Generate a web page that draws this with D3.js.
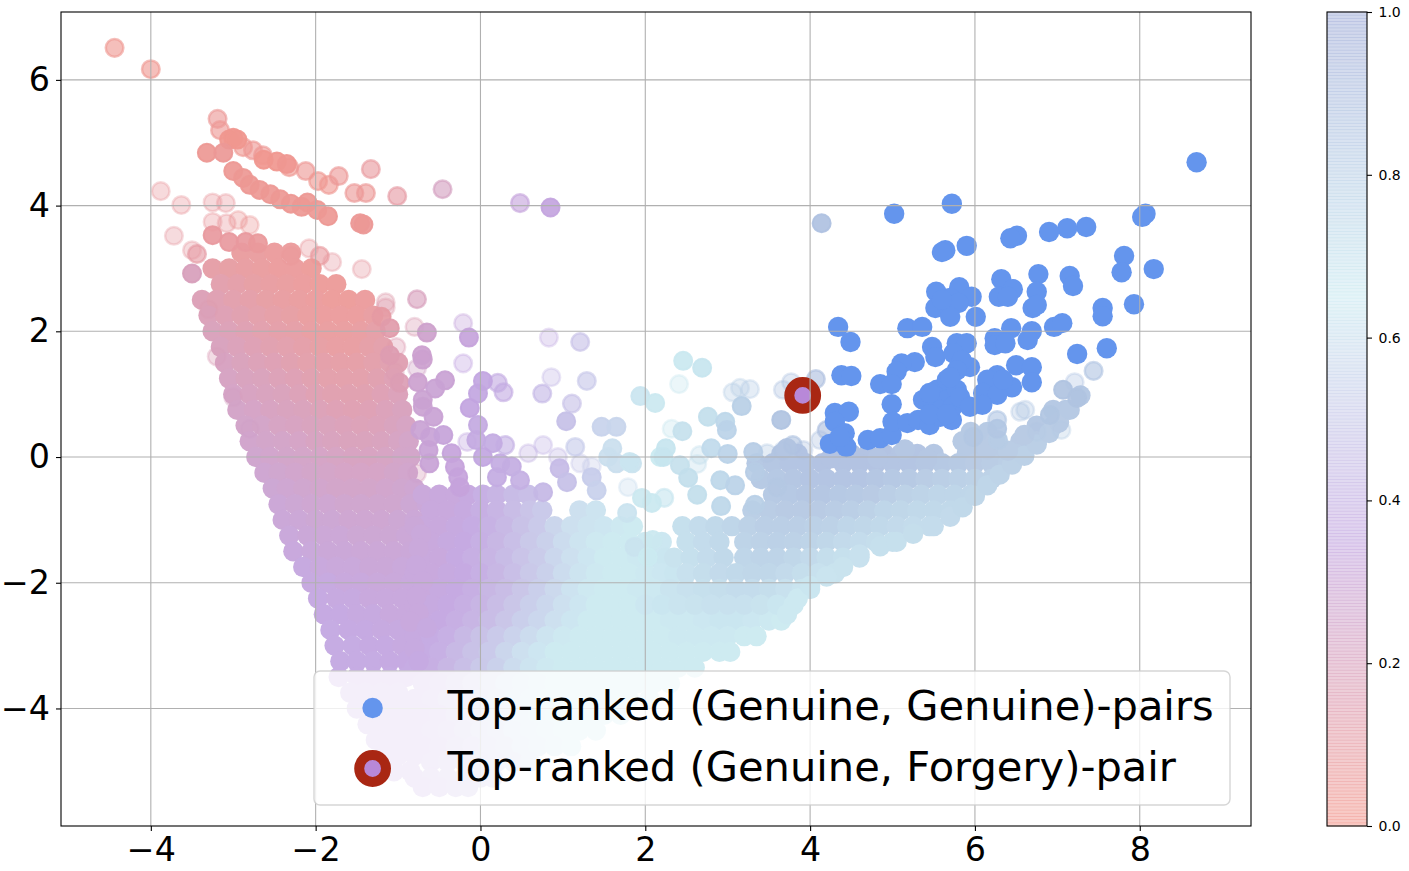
<!DOCTYPE html>
<html>
<head>
<meta charset="utf-8">
<script src="https://cdn.jsdelivr.net/npm/d3@7"></script>
<style>
body { margin: 0; background: #fff; }
svg { display: block; }
text { font-family: "DejaVu Sans", sans-serif; }
</style>
</head>
<body>
<div id="plotDiv"></div>
<script>
var xTicks = [-4, -2, 0, 2, 4, 6, 8];
var yTicks = [-4, -2, 0, 2, 4, 6];
var colorTicks = [0, 0.2, 0.4, 0.6, 0.8, 1];
var colorStops = [0, 0.35, 0.65, 1];
var colorValues = ["#f3968a", "#c2a4e0", "#cbeaf1", "#a0acd8"];
var legendLabels = ["Top-ranked (Genuine, Genuine)-pairs", "Top-ranked (Genuine, Forgery)-pair"];

// dense left lobe, rows are [y, x, score, x, score, ...]
var lobeRows = [
 [3.25,-2.9,.07,-2.7,.07,-2.5,.06,-2.3,.06],
 [3,-3.25,.1,-3.05,.09,-2.85,.08,-2.65,.07,-2.45,.06,-2.25,.06,-2.05,.05],
 [2.75,-3.15,.13,-2.95,.11,-2.75,.09,-2.55,.08,-2.35,.07,-2.15,.06,-1.95,.05,-1.75,.05],
 [2.5,-3.38,.17,-3.2,.15,-3,.13,-2.8,.11,-2.6,.09,-2.4,.08,-2.2,.07,-2,.06,-1.8,.05,-1.6,.05,-1.4,.06],
 [2.25,-3.3,.18,-3.1,.16,-2.9,.14,-2.7,.12,-2.5,.1,-2.3,.09,-2.1,.07,-1.9,.06,-1.7,.06,-1.5,.06,-1.3,.08],
 [2,-3.25,.19,-3.05,.17,-2.85,.15,-2.65,.13,-2.45,.11,-2.25,.1,-2.05,.08,-1.85,.07,-1.65,.07,-1.45,.08,-1.27,.1],
 [1.75,-3.15,.2,-2.95,.18,-2.75,.16,-2.55,.14,-2.35,.13,-2.15,.11,-1.95,.09,-1.75,.08,-1.55,.08,-1.35,.1,-1.18,.12],
 [1.5,-3.1,.21,-2.9,.19,-2.7,.17,-2.5,.16,-2.3,.14,-2.1,.12,-1.9,.11,-1.7,.1,-1.5,.1,-1.3,.12,-1.1,.14,-1,.15],
 [1.25,-3.05,.22,-2.85,.2,-2.65,.19,-2.45,.17,-2.25,.16,-2.05,.14,-1.85,.12,-1.65,.12,-1.45,.12,-1.25,.14,-1.05,.16],
 [1,-3,.23,-2.8,.21,-2.6,.2,-2.4,.19,-2.2,.17,-2,.15,-1.8,.14,-1.6,.14,-1.4,.14,-1.2,.16,-1,.18],
 [.75,-2.95,.24,-2.75,.23,-2.55,.21,-2.35,.2,-2.15,.19,-1.95,.17,-1.75,.16,-1.55,.15,-1.35,.16,-1.15,.18,-.95,.2],
 [.5,-2.85,.25,-2.65,.24,-2.45,.22,-2.25,.21,-2.05,.2,-1.85,.19,-1.65,.18,-1.45,.17,-1.25,.18,-1.05,.2,-.9,.22],
 [.25,-2.8,.26,-2.6,.25,-2.4,.24,-2.2,.23,-2,.21,-1.8,.2,-1.6,.19,-1.4,.19,-1.2,.2,-1,.22,-.87,.24],
 [0,-2.72,.27,-2.55,.26,-2.35,.25,-2.15,.24,-1.95,.23,-1.75,.22,-1.55,.21,-1.35,.21,-1.15,.22,-.95,.24,-.85,.25],
 [-.25,-2.62,.28,-2.45,.27,-2.25,.26,-2.05,.25,-1.85,.24,-1.65,.23,-1.45,.23,-1.25,.23,-1.05,.25,-.88,.26],
 [-.5,-2.52,.29,-2.35,.28,-2.15,.27,-1.95,.26,-1.75,.25,-1.55,.25,-1.35,.25,-1.15,.26,-.95,.27,-.8,.28],
 [-.75,-2.45,.3,-2.25,.29,-2.05,.28,-1.85,.28,-1.65,.27,-1.45,.27,-1.25,.27,-1.05,.27,-.85,.29,-.65,.31],
 [-1,-2.4,.31,-2.2,.3,-2,.29,-1.8,.29,-1.6,.28,-1.4,.28,-1.2,.28,-1,.29,-.8,.3],
 [-1.25,-2.32,.32,-2.1,.31,-1.9,.3,-1.7,.3,-1.5,.29,-1.3,.29,-1.1,.29,-.9,.3],
 [-1.5,-2.27,.33,-2.05,.32,-1.85,.31,-1.65,.31,-1.45,.3,-1.25,.3,-1.05,.3,-.85,.31],
 [-1.75,-2.15,.34,-1.95,.33,-1.75,.32,-1.55,.32,-1.35,.31,-1.15,.31,-.95,.32],
 [-2,-2.05,.34,-1.85,.34,-1.65,.33,-1.45,.33,-1.25,.32,-1.05,.32,-.85,.33],
 [-2.25,-1.97,.35,-1.75,.34,-1.55,.34,-1.35,.33,-1.15,.33,-.95,.33],
 [-2.5,-1.9,.35,-1.7,.35,-1.5,.34,-1.3,.34,-1.1,.33,-.9,.33],
 [-2.75,-1.82,.36,-1.6,.35,-1.4,.35,-1.2,.34,-1,.34,-.8,.34],
 [-3,-1.77,.36,-1.55,.36,-1.35,.35,-1.15,.35,-.95,.34],
 [-3.25,-1.7,.36,-1.5,.36,-1.3,.36,-1.1,.35,-.9,.35],
 [-3.5,-1.72,.36,-1.5,.36,-1.3,.36,-1.1,.36,-.9,.36],
 [-3.75,-1.58,.37,-1.4,.37,-1.2,.37,-1,.37],
 [-4,-1.5,.37,-1.3,.37,-1.1,.37,-.9,.37],
 [-4.25,-1.37,.37,-1.2,.37,-1,.37,-.85,.37],
 [-4.5,-1.27,.37,-1.1,.37,-.9,.37],
 [-4.75,-1.17,.37,-1,.37,-.8,.37],
 [-5,-1.05,.37,-.85,.37]
];

// middle of the V, from the lobe towards the right arm
var midRows = [
 [-.6,-.7,.32,-.5,.33,-.3,.33,-.15,.34,.03,.38,.2,.4,.4,.43,.58,.45],
 [-.85,-.6,.33,-.4,.33,-.2,.34,0,.37,.2,.4,.4,.44,.6,.47,.75,.5,1.2,.6,1.4,.62],
 [-1.1,-.7,.33,-.5,.33,-.3,.34,-.1,.36,.1,.39,.3,.42,.5,.46,.7,.5,.9,.55,1.1,.6,1.3,.62,1.5,.63,1.7,.64,1.85,.65],
 [-1.35,-.6,.33,-.4,.34,-.2,.35,0,.38,.2,.41,.4,.45,.6,.49,.8,.53,1,.58,1.2,.62,1.4,.64,1.6,.65,1.8,.65,2,.66,2.2,.67],
 [-1.6,-.7,.33,-.5,.33,-.3,.35,-.1,.37,.1,.4,.3,.43,.5,.47,.7,.51,.9,.56,1.1,.6,1.3,.63,1.5,.65,1.7,.65,1.9,.66,2.1,.67,2.25,.68],
 [-1.85,-.8,.33,-.6,.33,-.4,.34,-.2,.35,0,.38,.2,.41,.4,.45,.6,.49,.8,.53,1,.58,1.2,.62,1.4,.64,1.6,.65,1.8,.65,2,.66,2.2,.67,2.35,.68],
 [-2.1,-.7,.33,-.5,.34,-.3,.35,-.1,.37,.1,.41,.3,.44,.5,.48,.7,.52,.9,.57,1.1,.61,1.3,.64,1.5,.65,1.7,.65,1.9,.66,2.1,.66],
 [-2.35,-.8,.33,-.6,.34,-.4,.35,-.2,.37,0,.4,.2,.44,.4,.48,.6,.52,.8,.56,1,.6,1.2,.63,1.4,.65,1.6,.65,1.8,.65],
 [-2.6,-.7,.34,-.5,.35,-.3,.37,-.1,.4,.1,.44,.3,.48,.5,.52,.7,.56,.9,.6,1.1,.63,1.3,.65,1.5,.65,1.7,.65,1.9,.65,2.1,.65,2.3,.66,2.5,.66,2.7,.67,2.9,.68,3.1,.68,3.3,.67,3.5,.66,3.65,.65],
 [-2.85,-.8,.34,-.6,.36,-.4,.38,-.2,.42,0,.46,.2,.5,.4,.54,.6,.58,.8,.62,1,.64,1.2,.65,1.4,.65,1.6,.65,1.8,.65,2,.65,2.2,.65,2.4,.66,2.6,.66,2.8,.66,3,.66,3.2,.65,3.35,.65],
 [-3.1,-.7,.36,-.5,.38,-.3,.42,-.1,.46,.1,.5,.3,.55,.5,.6,.7,.63,.9,.65,1.1,.65,1.3,.65,1.5,.65,1.7,.65,1.9,.65,2.1,.65,2.3,.65,2.5,.65,2.7,.65,2.9,.65,3.03,.65],
 [-3.35,-.8,.36,-.6,.37,-.4,.41,-.2,.45,0,.49,.2,.53,.4,.58,.6,.62,.8,.64,1,.65,1.2,.65,1.4,.65,1.6,.65,1.8,.65,2,.65,2.2,.65,2.4,.65,2.6,.65],
 [-3.6,-.7,.37,-.5,.4,-.3,.44,-.1,.48,.1,.52,.3,.57,.5,.6,.7,.63,.9,.65,1.1,.65,1.3,.65,1.5,.65,1.7,.65,1.9,.65,2.1,.65,2.3,.65],
 [-3.85,-.8,.37,-.6,.39,-.4,.43,-.2,.47,0,.51,.2,.55,.4,.59,.6,.62,.8,.64,1,.65,1.2,.65,1.4,.65,1.6,.65,1.8,.65,2.05,.65],
 [-4.1,-.7,.37,-.5,.4,-.3,.44,-.1,.48,.1,.52,.3,.56,.5,.6,.7,.62,.9,.64,1.1,.65,1.3,.65,1.5,.65,1.7,.65],
 [-4.35,-.8,.37,-.6,.39,-.4,.42,-.2,.46,0,.5,.2,.54,.4,.58,.6,.6,.8,.62,1,.64,1.2,.65,1.4,.65],
 [-4.6,-.7,.38,-.5,.4,-.3,.43,-.1,.47,.1,.5,.3,.54,.5,.57,.7,.6,.9,.62,1.1,.64],
 [-4.85,-.6,.39,-.4,.42,-.2,.45,0,.48,.2,.51,.4,.54,.6,.57],
 [-5.1,-.8,.38,-.6,.39,-.4,.42,-.2,.44,0,.46,.15,.48],
 [-5.25,-.7,.38,-.5,.4,-.3,.42,-.15,.44]
];

// right arm of the V
var armRows = [
 [.75,6.95,.86,7.1,.86],
 [.5,6.75,.86,6.95,.86],
 [.4,5.95,.85,6.15,.85],
 [.25,5.85,.85,6.05,.85,6.25,.84,6.55,.84,6.75,.84],
 [.05,3.65,.87,3.85,.88,4.5,.89,4.7,.89,4.9,.89,5.1,.88,5.3,.88,5.5,.87,5.9,.85,6.1,.85,6.3,.84,6.5,.83],
 [-.1,3.35,.86,3.55,.87,3.75,.88,3.95,.88,4.15,.89,4.4,.89,4.6,.89,4.8,.89,5,.88,5.2,.88,5.4,.87,5.6,.86,5.8,.85,6,.84,6.2,.83,6.4,.82],
 [-.35,3.4,.85,3.6,.86,3.8,.87,4,.88,4.2,.88,4.4,.88,4.6,.88,4.8,.87,5,.86,5.2,.85,5.4,.83,5.6,.82,5.8,.81,6,.8,6.2,.8],
 [-.6,3.55,.85,3.75,.86,3.95,.87,4.15,.87,4.35,.86,4.55,.85,4.75,.84,4.95,.82,5.15,.8,5.35,.79,5.55,.78,5.75,.78,5.95,.78],
 [-.85,3.3,.82,3.5,.83,3.7,.84,3.9,.84,4.1,.84,4.3,.83,4.5,.82,4.7,.8,4.9,.78,5.1,.77,5.3,.76,5.5,.76,5.7,.76],
 [-1.1,2.45,.72,2.65,.74,2.85,.76,3.05,.78,3.25,.8,3.45,.82,3.65,.82,3.85,.82,4.05,.81,4.25,.8,4.45,.78,4.65,.77,4.85,.76,5.05,.75,5.25,.74,5.45,.74],
 [-1.35,2.5,.72,2.7,.74,2.9,.76,3.2,.79,3.4,.8,3.6,.81,3.8,.8,4,.79,4.2,.77,4.4,.75,4.6,.74,4.8,.73,5,.72],
 [-1.6,2.35,.7,2.55,.72,2.75,.74,2.95,.76,3.2,.78,3.4,.79,3.6,.79,3.8,.77,4,.75,4.2,.73,4.4,.72,4.6,.71],
 [-1.85,2.5,.71,2.7,.73,2.9,.75,3.1,.76,3.3,.77,3.5,.77,3.7,.75,3.9,.73,4.1,.71,4.3,.7],
 [-2.1,2.3,.69,2.5,.71,2.7,.72,2.9,.73,3.1,.74,3.3,.74,3.5,.73,3.7,.71,3.9,.69,4,.68],
 [-2.35,2,.67,2.2,.68,2.4,.69,2.6,.7,2.8,.71,3,.71,3.2,.71,3.4,.7,3.6,.68,3.8,.66]
];

// points that close the seam between lobe and middle, and the lower edge of the arm: [x, y, score]
var seamPoints = [
 [-.8,-1.1,.31],[-.72,-1.23,.32],[-.75,-1.45,.32],[-.78,-1.72,.33],[-.7,-1.98,.33],[-.78,-2.22,.33],[-.75,-2.48,.33],
 [-.85,-2.62,.33],[-.65,-2.72,.34],[-.8,-3.05,.34],[-.75,-3.25,.35]
];
var armEdgePoints = [
 [3.72,-2.5,.66],[3.85,-2.25,.66],[4,-2.05,.68],[4.2,-1.9,.69],[4.4,-1.75,.7],[4.6,-1.55,.71],[4.85,-1.42,.72],[5.05,-1.35,.72],
 [5.25,-1.22,.73],[5.5,-1.1,.74],[5.7,-.95,.75],[5.85,-.8,.76],[6,-.62,.77],[6.15,-.45,.78],[6.3,-.28,.79],[6.45,-.12,.8],
 [6.6,.02,.81],[6.75,.2,.82],[6.9,.38,.83],[7.02,.55,.84],[7.15,.75,.85],[7.28,.98,.86],[6.4,.1,.83],[6.6,.35,.84],[6.15,.12,.84],
 [5.15,.12,.87],[4.82,-.02,.88],[5.42,-.03,.87],[4.25,-.02,.89],[3.72,.14,.87]
];

// single points: [x, y, score]
var faintPoints = [
 [-3.88,4.23,.08],[-3.63,4.01,.08],[-3.25,4.05,.08],[-3.09,4.04,.08],[-3.72,3.52,.1],[-3.25,3.74,.08],[-3.08,3.72,.08],
 [-2.94,3.77,.06],[-2.8,3.69,.06],[-3.5,3.29,.1],[-1.44,2.99,.1],[-1.8,3.1,.1],[-2.08,3.32,.08],[-2.3,3.2,.08],
 [-1.15,2.46,.14],[-1.15,2.38,.14],[-.8,2.07,.17],[-.21,2.13,.33],[-.21,1.49,.35],[.83,1.9,.4],[-1.02,1.75,.16],
 [-.77,1.41,.24],[.86,1.27,.45],[-.16,.24,.36],[.58,.06,.42],[.76,.19,.43],[.94,0,.45],[1.21,-.1,.5],[1.35,-.15,.52],
 [1.79,-.48,.6],[-.77,-.26,.2],[2.41,1.16,.68],[3.15,1.1,.8],[3.27,1.08,.82],[3.06,1.03,.8],[3.67,1.07,.87],[3.77,1.19,.87],
 [2.32,.45,.68],[2.66,.03,.72],[2.63,-.11,.72],[3.48,.06,.83],[3.67,.1,.85],[3.92,.11,.87],[4.12,.27,.88],[6.55,.72,.85],
 [6.61,.75,.85],[7.21,1.19,.86],[7.05,.43,.8],[6.75,.4,.8],[-3.3,2.35,.14],[-3.2,1.6,.18],[-3,.95,.22],[-2.8,.45,.25],[-1.04,1.35,.17]
];
var midPoints = [
 [-4.44,6.51,.03],[-4,6.17,.03],[-3.19,5.38,.05],[-3.16,5.2,.04],[-2.88,4.93,.03],[-2.76,4.88,.04],[-2.64,4.8,.04],
 [-2.32,4.61,.03],[-2.12,4.55,.04],[-1.97,4.39,.03],[-1.84,4.33,.03],[-1.72,4.47,.05],[-1.53,4.2,.05],[-1.39,4.2,.05],
 [-1.33,4.58,.08],[-1.01,4.15,.1],[-.46,4.26,.22],[.48,4.04,.33],[-3.44,3.23,.1],[-1.95,3.2,.08],[-.77,2.51,.2],
 [.21,1.18,.38],[.28,1.03,.38],[.75,1.01,.43],[1.11,.85,.47],[.3,.19,.4],[1.15,.16,.52],[1.21,1.83,.47],[1.29,1.21,.5],
 [4.07,1.24,.9],[3.79,.19,.87],[4.2,.43,.9],[2.23,-.65,.68],[6.27,.59,.85],[7.44,1.37,.86]
];
var solidPoints = [
 [-3.05,5.05,.02],[-3,5.08,.02],[-2.95,5.05,.02],[-2.63,4.73,.02],[-2.47,4.7,.02],[-2.35,4.66,.03],
 [-3.32,4.84,.04],[-3.12,4.84,.05],[-3,4.55,.04],[-2.88,4.44,.04],[-2.8,4.33,.04],[-2.68,4.25,.04],[-2.55,4.18,.04],
 [-2.43,4.1,.04],[-2.3,4.03,.04],[-2.17,3.98,.04],[-2.1,4.05,.04],[-1.98,3.93,.04],[-1.85,3.83,.04],[-1.46,3.72,.05],[-1.42,3.7,.05],
 [-3.25,3.53,.08],[-3.05,3.42,.08],[-2.85,3.42,.08],[-2.7,3.4,.07],[-3.5,2.92,.2],[.85,3.97,.34],
 [-1.2,2.23,.1],[-1.1,2.05,.13],[-1.1,1.62,.16],[-.98,1.18,.17],
 [-.65,1.98,.27],[-.14,1.9,.33],[-.71,1.62,.28],[-.7,1.55,.28],[-.76,1.19,.28],[-.43,1.22,.3],[-.55,1.09,.3],[-.7,.91,.29],
 [-.7,.8,.29],[-.57,.64,.3],[.03,1.21,.36],[-.03,1.01,.36],[-.13,.78,.35],[1.04,.57,.47],[1.94,.97,.63],[2.12,.86,.64],
 [-.03,.51,.37],[-.05,.27,.37],[.15,.22,.38],[1.47,.48,.55],[1.65,.48,.56],[1.6,.14,.6],[1.55,0,.6],[1.65,-.1,.6],[1.84,-.1,.62],
 [2.18,0,.65],[.96,-.18,.45],[1.05,-.4,.47],[1.35,-.32,.52],[1.41,-.53,.54],[.76,-.56,.43],[-.63,.11,.31],[-.62,-.1,.31],
 [-.73,.43,.3],[-.61,.32,.31],[-.45,.35,.32],[-.35,.06,.33],[-.31,-.16,.33],[-.27,-.32,.33],[-.25,-.48,.33],[.24,-.1,.38],
 [.38,-.15,.39],[.48,-.37,.4],[.2,-.32,.38],[.03,0,.36],[2.46,1.53,.66],[2.69,1.42,.68],[3.17,.81,.8],[2.76,.64,.72],
 [2.97,.56,.76],[2.99,.43,.78],[3.65,.59,.87],[2.45,.41,.7],[2.25,.14,.68],[2.22,0,.68],[1.81,-.08,.63],[2.8,.14,.74],[3,.05,.78],
 [3.31,.08,.82],[2.42,-.13,.7],[2.52,-.33,.72],[2.91,-.37,.76],[3.09,-.45,.78],[1.96,-.65,.64],[2.63,-.6,.72],[3.33,-.24,.82],
 [3.6,-.48,.84],[3.33,-.76,.8],[2.92,-.78,.76],[2.08,-.73,.66],[1.78,-.89,.62],[1.87,-1.43,.62],[2.09,-1.32,.64],[2.03,-1.59,.65],
 [6.28,.27,.82],[7.07,1.07,.87],[7.24,.94,.87],[6.91,.67,.86],[5.98,.32,.85],[6.27,.45,.85],[4.14,3.72,.88]
];

// top-ranked (genuine, genuine) pairs
var genuinePoints = [
 [8.69,4.69],[5.02,3.87],[5.72,4.03],[8.07,3.87],[8.03,3.82],[7.35,3.66],[7.12,3.64],[6.9,3.58],[6.51,3.52],[6.43,3.48],
 [5.9,3.36],[5.64,3.29],[5.6,3.26],[7.81,3.2],[7.78,2.94],[8.17,2.99],[6.77,2.91],[7.15,2.88],[7.19,2.72],[6.32,2.83],
 [6.75,2.63],[6.46,2.67],[6.29,2.55],[6.4,2.55],[6.7,2.37],[6.75,2.42],[7.55,2.37],[7.55,2.24],[7.93,2.43],[5.53,2.63],
 [5.81,2.7],[5.96,2.55],[5.52,2.37],[5.7,2.53],[5.8,2.45],[5.7,2.23],[6.01,2.23],[5.6,2.5],[4.34,2.07],[4.49,1.83],
 [5.18,2.05],[5.36,2.07],[6.96,2.07],[7.06,2.13],[7.24,1.64],[7.6,1.73],[6.44,2.05],[6.24,1.89],[6.69,2],[6.64,1.86],
 [6.24,1.78],[6.37,1.81],[5.48,1.75],[5.52,1.59],[5.78,1.81],[5.9,1.81],[5.74,1.65],[5.94,1.43],[5.84,1.54],[5.27,1.51],
 [5.11,1.49],[5.05,1.36],[4.85,1.16],[4.99,1.16],[6.5,1.46],[6.69,1.43],[6.69,1.19],[6.27,1.3],[6.45,1.11],[6.15,1.23],
 [6.1,1.02],[6.27,.99],[6.34,1.23],[4.38,1.3],[4.5,1.29],[4.99,.84],[4.3,.7],[4.47,.72],[4.3,.56],[4.42,.38],[4.24,.21],
 [4.44,.16],[4.36,.32],[4.7,.27],[4.85,.3],[4.99,.35],[5,.56],[5.18,.54],[5.31,.59],[5.45,.51],[5.72,.59],[5.58,.64],
 [5.37,.91],[5.54,1.07],[5.66,1.23],[5.78,1.38],[5.49,.86],[5.66,.91],[5.78,1.07],[5.58,.75],[5.73,.8],[5.82,.95],[5.94,.8],
 [6.09,.83],[5.45,.68],[5.66,.68],[5.7,1.27],[5.45,1.02]
];
var forgeryPoint = [[3.91, 0.98]];

var genuineColor = "#6495ed";
var forgeryFace = "#b888d8";
var forgeryEdge = "#a92713";
var faintAlpha = 0.36, midAlpha = 0.62, solidAlpha = 0.92;

var width = 1409, height = 871;
var margin = {left: 61, right: 1251, top: 12, bottom: 826};

var x = d3.scaleLinear().domain([-5.09, 9.35]).range([margin.left, margin.right]);
var y = d3.scaleLinear().domain([-5.87, 7.08]).range([margin.bottom, margin.top]);
var color = d3.scaleLinear().domain(colorStops).range(colorValues);

var svg = d3.select("#plotDiv").append("svg")
    .attr("width", width)
    .attr("height", height);

// flatten [y, x, score, x, score...] rows into points
function flatten(rows) {
    var out = [];
    rows.forEach(function(row) {
        for (var i = 1; i < row.length; i += 2) {
            out.push([row[i], row[0], row[i + 1]]);
        }
    });
    return out;
}

function drawDots(data, alpha, r, sw) {
    return svg.append("g").selectAll("circle")
        .data(data)
        .enter().append("circle")
        .attr("cx", function(d) { return x(d[0]); })
        .attr("cy", function(d) { return y(d[1]); })
        .attr("r", r)
        .attr("fill", function(d) { return color(d[2]); })
        .attr("stroke", function(d) { return color(d[2]); })
        .attr("stroke-width", sw)
        .attr("fill-opacity", alpha)
        .attr("stroke-opacity", alpha);
}

drawDots(faintPoints, faintAlpha, 8.8, 2.5);
drawDots(midPoints, midAlpha, 8.8, 2.5);

// the dense mass is flattened into one group so it keeps a soft even tone
var massPoints = flatten(lobeRows).concat(flatten(midRows), flatten(armRows), seamPoints, armEdgePoints);
svg.append("g").attr("opacity", 0.93).selectAll("circle")
    .data(massPoints)
    .enter().append("circle")
    .attr("cx", function(d) { return x(d[0]); })
    .attr("cy", function(d) { return y(d[1]); })
    .attr("r", 10.2)
    .attr("fill", function(d) { return color(d[2]); });

drawDots(solidPoints, solidAlpha, 9, 2);

svg.append("g").selectAll("circle")
    .data(genuinePoints)
    .enter().append("circle")
    .attr("cx", function(d) { return x(d[0]); })
    .attr("cy", function(d) { return y(d[1]); })
    .attr("r", 10.2)
    .attr("fill", genuineColor);

svg.append("g").selectAll("circle")
    .data(forgeryPoint)
    .enter().append("circle")
    .attr("cx", function(d) { return x(d[0]); })
    .attr("cy", function(d) { return y(d[1]); })
    .attr("r", 13.4)
    .attr("fill", forgeryFace)
    .attr("stroke", forgeryEdge)
    .attr("stroke-width", 10);

// grid sits above the points
var grid = svg.append("g").attr("stroke", "#b0b0b0").attr("stroke-width", 1.1);
grid.selectAll(".gx").data(xTicks).enter().append("line")
    .attr("x1", function(d) { return x(d); })
    .attr("x2", function(d) { return x(d); })
    .attr("y1", margin.top).attr("y2", margin.bottom);
grid.selectAll(".gy").data(yTicks).enter().append("line")
    .attr("y1", function(d) { return y(d); })
    .attr("y2", function(d) { return y(d); })
    .attr("x1", margin.left).attr("x2", margin.right);

// legend
var legendX = 314, legendY = 671, legendW = 916, legendH = 134;
svg.append("rect")
    .attr("x", legendX).attr("y", legendY)
    .attr("width", legendW).attr("height", legendH)
    .attr("rx", 6)
    .attr("fill", "#fff").attr("fill-opacity", 0.8)
    .attr("stroke", "#ccc").attr("stroke-opacity", 0.8).attr("stroke-width", 1.4);
svg.append("circle").attr("cx", 372.6).attr("cy", 708).attr("r", 10.2).attr("fill", genuineColor);
svg.append("circle").attr("cx", 372.6).attr("cy", 768.5).attr("r", 13.4)
    .attr("fill", forgeryFace).attr("stroke", forgeryEdge).attr("stroke-width", 10);
svg.selectAll(".legendText").data(legendLabels).enter().append("text")
    .attr("x", 447.5)
    .attr("y", function(d, i) { return 720 + i * 61; })
    .attr("font-size", 41.6)
    .attr("fill", "#000")
    .text(function(d) { return d; });

// frame and axes
svg.append("rect")
    .attr("x", margin.left).attr("y", margin.top)
    .attr("width", margin.right - margin.left).attr("height", margin.bottom - margin.top)
    .attr("fill", "none").attr("stroke", "#000").attr("stroke-width", 1.1);

var fmt = function(d) { return String(d).replace("-", "\u2212"); };

var xAxis = svg.append("g")
    .attr("transform", "translate(0," + margin.bottom + ")")
    .call(d3.axisBottom(x).tickValues(xTicks).tickFormat(fmt).tickSize(5).tickPadding(6));
var yAxis = svg.append("g")
    .attr("transform", "translate(" + margin.left + ",0)")
    .call(d3.axisLeft(y).tickValues(yTicks).tickFormat(fmt).tickSize(5).tickPadding(6));
[xAxis, yAxis].forEach(function(a) {
    a.select(".domain").remove();
    a.selectAll("line").attr("stroke", "#000").attr("stroke-width", 1.1);
    a.selectAll("text").attr("font-size", 33.3).attr("fill", "#000")
        .style("font-family", '"DejaVu Sans", sans-serif');
});

// colorbar, the strips overlap a little like a semi transparent pcolormesh
var barX = 1327, barW = 40, steps = 256;
var cb = d3.scaleLinear().domain([0, 1]).range([margin.bottom, margin.top]);
svg.append("g").selectAll("rect")
    .data(d3.range(steps))
    .enter().append("rect")
    .attr("x", barX)
    .attr("width", barW)
    .attr("y", function(d) { return cb((d + 1) / steps) - 0.4; })
    .attr("height", function(d) { return cb(d / steps) - cb((d + 1) / steps) + 0.8; })
    .attr("fill", function(d) { return color(d / (steps - 1)); })
    .attr("fill-opacity", 0.5);
svg.append("rect")
    .attr("x", barX).attr("y", margin.top)
    .attr("width", barW).attr("height", margin.bottom - margin.top)
    .attr("fill", "none").attr("stroke", "#000").attr("stroke-width", 1.1);
var cbAxis = svg.append("g")
    .attr("transform", "translate(" + (barX + barW) + ",0)")
    .call(d3.axisRight(cb).tickValues(colorTicks).tickFormat(d3.format(".1f")).tickSize(5).tickPadding(6.5));
cbAxis.select(".domain").remove();
cbAxis.selectAll("line").attr("stroke", "#000").attr("stroke-width", 1.1);
cbAxis.selectAll("text").attr("font-size", 14).attr("fill", "#000")
    .style("font-family", '"DejaVu Sans", sans-serif');
</script>
</body>
</html>
